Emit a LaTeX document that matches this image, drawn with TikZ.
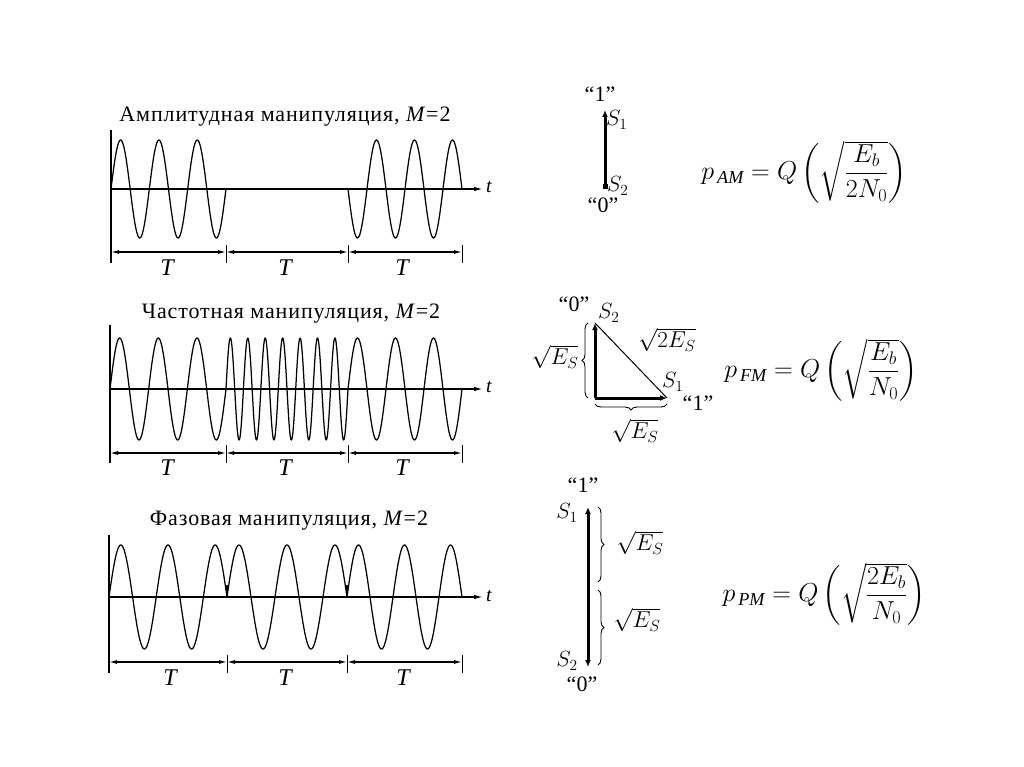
\RequirePackage{fix-cm}
\documentclass[tikz,border=0pt]{standalone}
\usepackage{amsmath}
\usepackage{fontspec}
\setmainfont{Liberation Serif}
\usetikzlibrary{arrows.meta,decorations.pathreplacing}
\begin{document}
\begin{tikzpicture}[x=1pt,y=-1pt,
  wave/.style={line width=1.25pt,line join=round},
  axis/.style={line width=1.4pt,-{Latex[length=9pt,width=4.5pt]}},
  vaxis/.style={line width=1.1pt},
  dim/.style={line width=1.1pt,{Latex[length=8pt,width=4pt]}-{Latex[length=8pt,width=4pt]}},
  tickln/.style={line width=1pt},
  ttl/.style={font=\fontsize{22}{24}\selectfont\addfontfeature{LetterSpace=4},anchor=base},
  tlab/.style={font=\fontsize{24}{26}\selectfont\itshape,inner sep=0pt},
  tax/.style={font=\fontsize{20}{22}\selectfont\itshape,inner sep=0pt},
  quot/.style={font=\fontsize{22}{24}\selectfont,inner sep=0pt},
  slab/.style={font=\fontsize{22}{24}\selectfont,inner sep=0pt},
  elab/.style={font=\fontsize{23}{25}\selectfont,inner sep=0pt},
  vec/.style={line width=3pt,-{Latex[length=7pt,width=6pt]}},
  brc/.style={line width=0.9pt,decorate,decoration={brace,amplitude=6pt}},
  form/.style={font=\fontsize{26}{30}\selectfont,inner sep=0pt}
]
\useasboundingbox[fill=white] (0,0) rectangle (1024,767);

% ---------------- AM panel ----------------
\node[ttl] (t1) at (285,122) {Амплитудная манипуляция, \textit{M}=2};
\coordinate (a0) at (111,252); \coordinate (a1) at (226,252);
\coordinate (a2) at (348,252); \coordinate (a3) at (462,252);
\coordinate (ay) at (111,130); \coordinate (ayb) at (111,263);
\coordinate (ax0) at (111,189); \coordinate (ax1) at (483,189);
\draw[vaxis] (ay) -- (ayb);
\draw[axis] (ax0) -- (ax1);
\node[tax] (at) at (489,187) {t};
\draw[wave] plot[domain=111:226,samples=160] (\x,{189-49*sin((1080/115)*(\x-111))});
\draw[wave] plot[domain=348:462,samples=160] (\x,{189+49*sin((1080/114)*(\x-348))});
\foreach \c in {a1,a2,a3} \draw[tickln] ([yshift=7pt]\c) -- ([yshift=-11pt]\c);
\draw[dim] (a0) -- (a1); \draw[dim] (a1) -- (a2); \draw[dim] (a2) -- (a3);
\node[tlab] (aT1) at (167,268) {T};
\node[tlab] (aT2) at (285,268) {T};
\node[tlab] (aT3) at (402,268) {T};

% ---------------- FM panel ----------------
\node[ttl] (t2) at (291,318) {Частотная манипуляция, \textit{M}=2};
\coordinate (f0) at (110,453); \coordinate (f1) at (226,453);
\coordinate (f2) at (348,453); \coordinate (f3) at (462,453);
\coordinate (fy) at (110,325); \coordinate (fyb) at (110,463);
\coordinate (fx0) at (110,389); \coordinate (fx1) at (483,389);
\draw[vaxis] (fy) -- (fyb);
\draw[axis] (fx0) -- (fx1);
\node[tax] (ft) at (489,387) {t};
\draw[wave] plot[domain=110:226,samples=160] (\x,{389-51*sin((1080/116)*(\x-110))});
\draw[wave] plot[domain=226:348,samples=300] (\x,{389-51*sin((2520/122)*(\x-226))});
\draw[wave] plot[domain=348:462,samples=160] (\x,{389-51*sin((1080/114)*(\x-348))});
\foreach \c in {f1,f2,f3} \draw[tickln] ([yshift=8pt]\c) -- ([yshift=-10pt]\c);
\draw[dim] (f0) -- (f1); \draw[dim] (f1) -- (f2); \draw[dim] (f2) -- (f3);
\node[tlab] (fT1) at (167,468) {T};
\node[tlab] (fT2) at (285,468) {T};
\node[tlab] (fT3) at (402,468) {T};

% ---------------- PM panel ----------------
\node[ttl] (t3) at (289,525) {Фазовая манипуляция, \textit{M}=2};
\coordinate (p0) at (109,662); \coordinate (p1) at (227,662);
\coordinate (p2) at (347,662); \coordinate (p3) at (462,662);
\coordinate (py) at (109,535); \coordinate (pyb) at (109,673);
\coordinate (px0) at (109,597); \coordinate (px1) at (483,597);
\draw[vaxis] (py) -- (pyb);
\draw[axis] (px0) -- (px1);
\node[tax] (pt) at (489,596) {t};
\draw[wave] plot[domain=109:227,samples=160] (\x,{597-52*sin((900/118)*(\x-109))});
\draw[wave] plot[domain=227:347,samples=160] (\x,{597-52*sin((900/120)*(\x-227))});
\draw[wave] plot[domain=347:462,samples=160] (\x,{597-52*sin((900/115)*(\x-347))});
\coordinate (c1) at (227,597); \coordinate (c2) at (347,597);
\draw[line width=1.6pt] (c1) -- ++(0,-12); \draw[line width=1.6pt] (c2) -- ++(0,-12);
\foreach \c in {p1,p2,p3} \draw[tickln] ([yshift=7pt]\c) -- ([yshift=-11pt]\c);
\draw[dim] (p0) -- (p1); \draw[dim] (p1) -- (p2); \draw[dim] (p2) -- (p3);
\node[tlab] (pT1) at (170,678) {T};
\node[tlab] (pT2) at (285,678) {T};
\node[tlab] (pT3) at (403,678) {T};

% ---------------- AM constellation ----------------
\coordinate (AS2) at (605,187); \coordinate (AS1) at (605,110);
\draw[vec] (AS2) -- (AS1);
\fill (AS2) +(-2.5,-2.5) rectangle +(2.5,2.5);
\node[quot] (A1q) at (600,94) {“1”};
\node[quot] (A0q) at (603,205) {“0”};
\node[slab,anchor=west] (AS1l) at (606,120) {$S_1$};
\node[slab,anchor=west] (AS2l) at (607,186) {$S_2$};
\node[form] (Af) at (804,172) {$p_{\,\mathit{AM}} = Q\left(\sqrt{\dfrac{E_b}{2N_0}}\right)$};

% ---------------- FM constellation ----------------
\coordinate (FS2) at (595,323); \coordinate (FC) at (595,398); \coordinate (FS1) at (667,398);
\draw[line width=1pt] (FS2) -- (FS1);
\draw[vec] (FC) -- (FS2);
\draw[vec] (FC) -- (FS1);
\draw[brc] (588,398) -- (588,323);
\draw[brc] (667,404) -- (595,404);
\node[quot] (F0q) at (574,304) {“0”};
\node[quot] (F1q) at (698,403) {“1”};
\node[slab,anchor=west] (FS2l) at (598,313) {$S_2$};
\node[slab,anchor=west] (FS1l) at (662,382) {$S_1$};
\node[elab] (Fd) at (667,340) {$\sqrt{2E_S}$};
\node[elab] (Fl) at (555,357) {$\sqrt{E_S}$};
\node[elab] (Fb) at (635,431) {$\sqrt{E_S}$};
\node[form] (Ff) at (821,370) {$p_{\,\mathit{FM}} = Q\left(\sqrt{\dfrac{E_b}{N_0}}\right)$};

% ---------------- PM constellation ----------------
\coordinate (PS1) at (588,507); \coordinate (PO) at (588,587); \coordinate (PS2) at (588,667);
\draw[vec] (PO) -- (PS1);
\draw[vec] (PO) -- (PS2);
\draw[brc] (598,507) -- (598,582);
\draw[brc] (598,590) -- (598,665);
\node[quot] (P1q) at (583,485) {“1”};
\node[quot] (P0q) at (582,684) {“0”};
\node[slab] (PS1l) at (567,513) {$S_1$};
\node[slab] (PS2l) at (567,661) {$S_2$};
\node[elab] (Pu) at (640,543) {$\sqrt{E_S}$};
\node[elab] (Pd) at (637,620) {$\sqrt{E_S}$};
\node[form] (Pf) at (824,594) {$p_{\,\mathit{PM}} = Q\left(\sqrt{\dfrac{2E_b}{N_0}}\right)$};
\end{tikzpicture}
\end{document}
